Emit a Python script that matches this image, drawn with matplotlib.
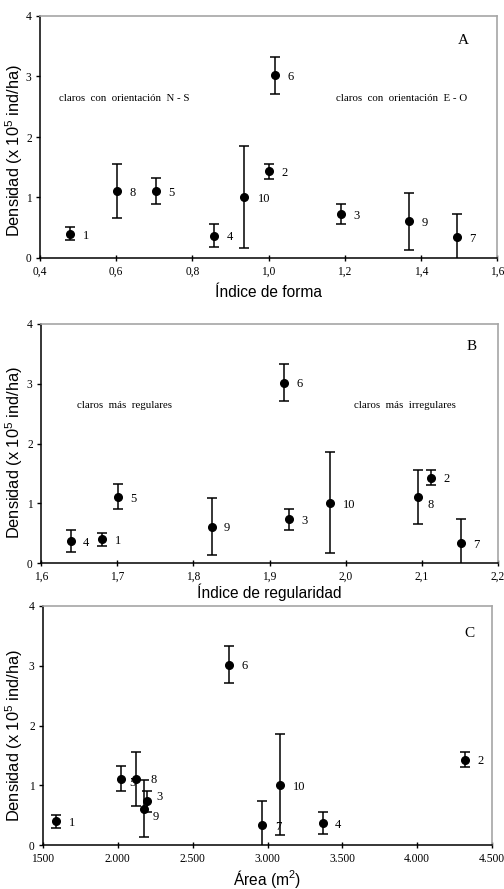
import numpy as np
import matplotlib
matplotlib.use('Agg')
import matplotlib.pyplot as plt

# claros 1..10
claros = ['1', '2', '3', '4', '5', '6', '7', '8', '9', '10']
densidad = [0.40, 1.43, 0.73, 0.37, 1.11, 3.02, 0.34, 1.11, 0.61, 1.01]
error = [0.11, 0.13, 0.17, 0.19, 0.21, 0.31, 0.39, 0.45, 0.47, 0.84]
indice_forma = [0.479, 1.000, 1.190, 0.858, 0.704, 1.016, 1.494, 0.601, 1.368, 0.935]
indice_regularidad = [1.680, 2.112, 1.926, 1.639, 1.701, 1.919, 2.151, 2.095, 1.824, 1.980]
area = [1587, 4317, 2194, 3368, 2023, 2741, 2965, 2123, 2174, 3083]

ticks_forma = [0.4, 0.6, 0.8, 1.0, 1.2, 1.4, 1.6]
etiq_forma = ['0,4', '0,6', '0,8', '1,0', '1,2', '1,4', '1,6']
ticks_reg = [1.6, 1.7, 1.8, 1.9, 2.0, 2.1, 2.2]
etiq_reg = ['1,6', '1,7', '1,8', '1,9', '2,0', '2,1', '2,2']
ticks_area = [1500, 2000, 2500, 3000, 3500, 4000, 4500]
etiq_area = ['1500', '2.000', '2.500', '3.000', '3.500', '4.000', '4.500']

SERIF = 'Liberation Serif'
SANS = 'Liberation Sans'
GRIS = '#a6a6a6'

fig = plt.figure(figsize=(5.04, 8.89), dpi=100)

# posiciones de los ejes en pixeles (izq, der, arriba, abajo)
cajas = [(40, 497, 16, 258), (41, 498, 324, 563), (43, 492, 606, 845)]
W, H = 504.0, 889.0


def panel(caja, x, ticks, etiquetas, xlabel, letra, xletra, yletra,
          offsets, textos, label_y, ylab_y):
    l, r, t, b = caja
    ax = fig.add_axes([l / W, 1 - b / H, (r - l) / W, (b - t) / H])
    ax.errorbar(x, densidad, yerr=error, fmt='o', color='black', ms=5.5,
                elinewidth=1.1, capsize=3.6, capthick=1.1)
    for i, c in enumerate(claros):
        dx, dy = offsets.get(c, (9, -3.5))
        ax.annotate(c, (x[i], densidad[i]), xytext=(dx, dy),
                    textcoords='offset points', fontsize=9, family=SERIF)
    ax.set_xlim(ticks[0], ticks[-1])
    ax.set_ylim(0, 4)
    ax.set_xticks(ticks)
    ax.set_xticklabels(etiquetas, family=SERIF, fontsize=8.3)
    ax.set_yticks([0, 1, 2, 3, 4])
    ax.set_yticklabels(['0', '1', '2', '3', '4'], family=SERIF, fontsize=8.3)
    ax.tick_params(axis='x', direction='inout', length=5, width=1, pad=3)
    ax.tick_params(axis='y', direction='out', length=3, width=1, pad=3)
    for s in ['top', 'right']:
        ax.spines[s].set_color(GRIS)
        ax.spines[s].set_linewidth(1.2)
    for s in ['left', 'bottom']:
        ax.spines[s].set_linewidth(1.1)
    ax.set_xlabel(xlabel, family=SANS, fontsize=11.2)
    ax.set_ylabel(r'Densidad (x 10$^{\mathregular{5}}$ ind/ha)', family=SANS, fontsize=11.8)
    ax.xaxis.set_label_coords(0.5, label_y)
    ax.yaxis.set_label_coords((25 - l) / (r - l), ylab_y)
    ax.text(xletra, yletra, letra, family=SERIF, fontsize=11, ha='left', va='center')
    for (tx, ty, s) in textos:
        ax.text(tx, ty, s, family=SERIF, fontsize=7.8, ha='left', va='center')
    return ax


panel(cajas[0], indice_forma, ticks_forma, etiq_forma, 'Índice de forma',
      'A', 1.497, 3.59, {'10': (10, -3.5)},
      [(0.45, 2.63, 'claros  con  orientación  N - S'),
       (1.178, 2.63, 'claros  con  orientación  E - O')],
      -0.112, 0.442)

panel(cajas[1], indice_regularidad, ticks_reg, etiq_reg, 'Índice de regularidad',
      'B', 2.159, 3.63, {'8': (7, -8), '2': (9, -3)},
      [(1.647, 2.63, 'claros  más  regulares'),
       (2.011, 2.63, 'claros  más  irregulares')],
      -0.084, 0.464)

panel(cajas[2], area, ticks_area, etiq_area, r'Área (m$^{\mathregular{2}}$)',
      'C', 4318, 3.54,
      {'5': (6, -5), '8': (10, -3), '3': (7, 1), '9': (6, -8)},
      [], -0.098, 0.456)

plt.savefig('out.png', dpi=100)
plt.close()
